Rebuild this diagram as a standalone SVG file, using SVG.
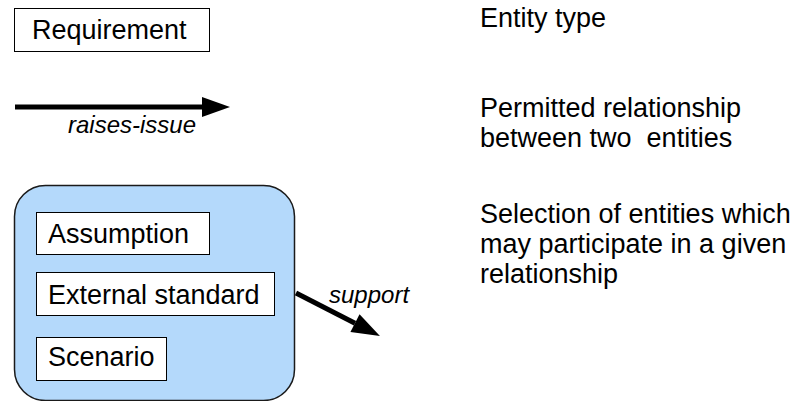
<svg xmlns="http://www.w3.org/2000/svg" width="796" height="401" viewBox="0 0 796 401">
  <style>
    .bg { fill: #ffffff; }
    .entity { fill: #ffffff; stroke: #000000; stroke-width: 1; }
    .group { fill: #b4d9fb; stroke: #1a1a1a; stroke-width: 1.5; }
    .label { font-family: "Liberation Sans", Arial, sans-serif; font-size: 27px; fill: #000000; }
    .rel { font-family: "Liberation Sans", Arial, sans-serif; font-size: 24px; font-style: italic; fill: #000000; }
    .edge { stroke: #000000; stroke-width: 5; fill: none; marker-end: url(#head); }
  </style>
  <defs>
    <marker id="head" markerUnits="userSpaceOnUse" markerWidth="30" markerHeight="22" refX="0" refY="10" orient="auto" overflow="visible">
      <path d="M0,0 L28,10 L0,20 Z" fill="#000000"/>
    </marker>
  </defs>

  <rect class="bg" x="0" y="0" width="796" height="401"/>

  <!-- Legend: entity type -->
  <g id="requirement">
    <rect class="entity" x="14.5" y="8.5" width="195" height="43"/>
    <text class="label" x="32" y="39">Requirement</text>
  </g>

  <!-- Selection group with member entities -->
  <g id="selection">
    <rect class="group" x="14.5" y="185.5" width="280" height="215" rx="31" ry="31"/>
  </g>
  <g id="assumption">
    <rect class="entity" x="36.5" y="212.5" width="173" height="42"/>
    <text class="label" x="48" y="243">Assumption</text>
  </g>
  <g id="external-standard">
    <rect class="entity" x="36.5" y="272.5" width="238" height="43"/>
    <text class="label" x="48" y="304">External standard</text>
  </g>
  <g id="scenario">
    <rect class="entity" x="36.5" y="337.5" width="130" height="43"/>
    <text class="label" x="48" y="366">Scenario</text>
  </g>

  <!-- Connectors -->
  <g id="connectors">
    <line class="edge" x1="15" y1="107" x2="202" y2="107"/>
    <text class="rel" x="68" y="133">raises-issue</text>
    <line class="edge" x1="296" y1="293" x2="355" y2="323.2"/>
    <text class="rel" x="329" y="303">support</text>
  </g>

  <!-- Legend descriptions -->
  <g id="descriptions">
    <text class="label" x="480" y="27">Entity type</text>
    <text class="label" x="480" y="117">Permitted relationship</text>
    <text class="label" x="480" y="147">between two&#160; entities</text>
    <text class="label" x="480" y="223">Selection of entities which</text>
    <text class="label" x="480" y="253">may participate in a given</text>
    <text class="label" x="480" y="283">relationship</text>
  </g>
</svg>
